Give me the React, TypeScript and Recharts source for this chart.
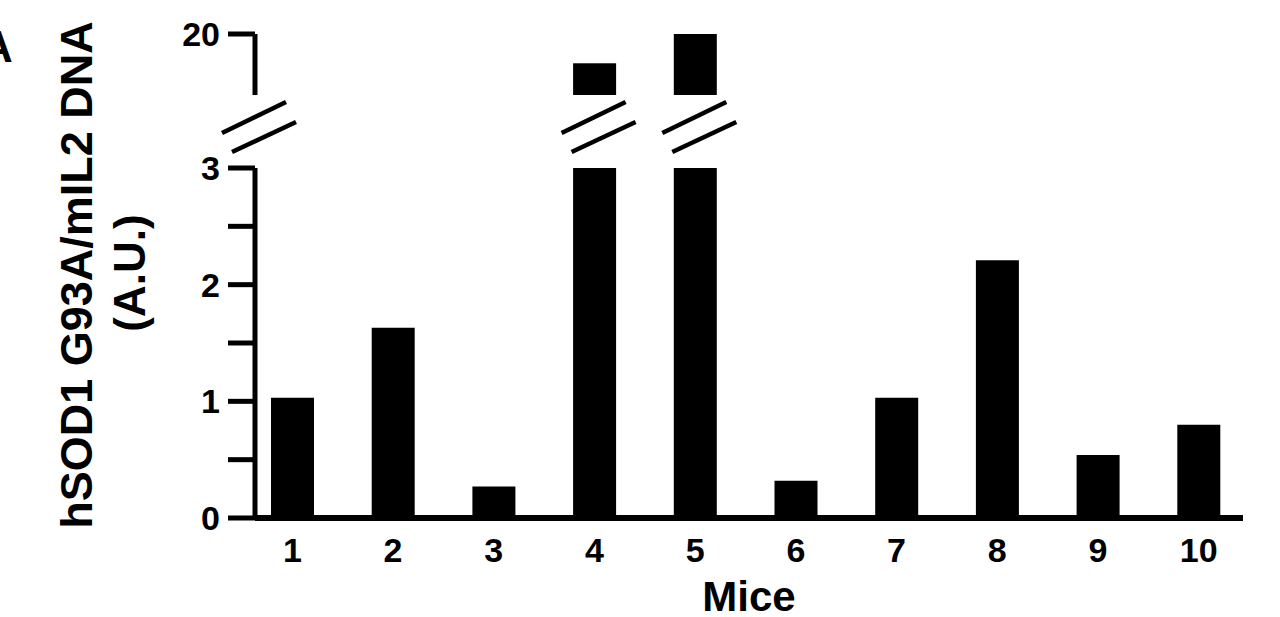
import React from 'react';
import { BarChart, Bar, XAxis, YAxis, Label } from 'recharts';

const mice = ['1', '2', '3', '4', '5', '6', '7', '8', '9', '10'];
const values = [1.03, 1.63, 0.27, 17.6, 20, 0.32, 1.03, 2.21, 0.54, 0.8];
const lowerTicks = [0, 0.5, 1, 1.5, 2, 2.5, 3];
const lowerDomain = [0, 3];
const upperTicks = [15, 20];
const upperDomain = [15, 20];
const yLabelLine1 = 'hSOD1 G93A/mIL2 DNA';
const yLabelLine2 = '(A.U.)';
const xLabel = 'Mice';
const panelLetter = 'A';

const lowerData = mice.map((m, i) => ({ mouse: m, value: values[i] }));
const upperData = mice.map((m, i) => ({
  mouse: m,
  value: values[i] > lowerDomain[1] ? values[i] : null,
}));

const FONT = '"Liberation Sans", Arial, Helvetica, sans-serif';
const TICK_SIZE = 27;
const TICK_MARGIN = 8;
const W = 1280;
const H = 617;
const Y_AXIS_W = 255;
const RIGHT = 37;
const X_PAD = { left: -13, right: -6 };

const BreakMarks = ({ cx, by }: { cx: number; by: number }) => (
  <g stroke="#000" strokeWidth={4.5}>
    <line x1={cx - 33} y1={by + 38} x2={cx + 31} y2={by + 7} />
    <line x1={cx - 23} y1={by + 57} x2={cx + 41} y2={by + 27} />
  </g>
);

const UpperBarShape = (props: any) => {
  const { x, y, width, height } = props;
  if (x == null || height == null || !(height > 0)) return <g />;
  return (
    <g>
      <rect x={x} y={y} width={width} height={height} fill="#000" />
      <BreakMarks cx={x + width / 2} by={y + height} />
    </g>
  );
};

const UpperTick = (props: any) => {
  const { x, y, payload } = props;
  const axisX = x + TICK_SIZE + TICK_MARGIN;
  if (payload.value === upperDomain[0]) {
    return <BreakMarks cx={axisX} by={y} />;
  }
  return (
    <g>
      <line x1={axisX - TICK_SIZE} y1={y} x2={axisX} y2={y} stroke="#000" strokeWidth={5} />
      <text
        x={x}
        y={y}
        dy="0.355em"
        textAnchor="end"
        fontFamily={FONT}
        fontWeight="bold"
        fontSize={34}
        fill="#000"
      >
        {payload.value}
      </text>
    </g>
  );
};

const YLabel = () => (
  <g fontFamily={FONT} fontWeight="bold" fill="#000">
    <text x={-19} y={62} fontSize={44}>{panelLetter}</text>
    <text transform="translate(92,275) rotate(-90)" textAnchor="middle" fontSize={45}>
      {yLabelLine1}
    </text>
    <text transform="translate(145,273) rotate(-90)" textAnchor="middle" fontSize={44}>
      {yLabelLine2}
    </text>
  </g>
);

export default function App() {
  const tickStyle = { fontFamily: FONT, fontWeight: 'bold', fontSize: 34, fill: '#000' };
  return (
    <div style={{ position: 'absolute', left: 0, top: 0, width: W, height: H, background: '#fff' }}>
      <div style={{ position: 'absolute', left: 0, top: 0 }}>
        <BarChart
          width={W}
          height={H}
          data={lowerData}
          margin={{ top: 168, right: RIGHT, bottom: 0, left: 0 }}
        >
          <XAxis
            dataKey="mouse"
            height={99}
            padding={X_PAD}
            axisLine={{ stroke: '#000', strokeWidth: 6 }}
            tickLine={false}
            tickSize={10}
            tickMargin={10}
            tick={tickStyle}
          >
            <Label
              value={xLabel}
              position="insideBottom"
              offset={6}
              style={{ fontFamily: FONT, fontWeight: 'bold', fontSize: 42, fill: '#000' }}
            />
          </XAxis>
          <YAxis
            width={Y_AXIS_W}
            domain={lowerDomain}
            allowDataOverflow
            ticks={lowerTicks}
            interval={0}
            tickSize={TICK_SIZE}
            tickMargin={TICK_MARGIN}
            tick={tickStyle}
            tickFormatter={(v: number) => (Number.isInteger(v) ? String(v) : '')}
            axisLine={{ stroke: '#000', strokeWidth: 5 }}
            tickLine={{ stroke: '#000', strokeWidth: 5 }}
          >
            <Label content={<YLabel />} />
          </YAxis>
          <Bar dataKey="value" fill="#000" barSize={43} isAnimationActive={false} />
        </BarChart>
      </div>
      <div style={{ position: 'absolute', left: 0, top: 0 }}>
        <BarChart
          width={W}
          height={160}
          data={upperData}
          margin={{ top: 34, right: RIGHT, bottom: 65, left: 0 }}
        >
          <XAxis dataKey="mouse" hide padding={X_PAD} />
          <YAxis
            width={Y_AXIS_W}
            domain={upperDomain}
            ticks={upperTicks}
            interval={0}
            tickSize={TICK_SIZE}
            tickMargin={TICK_MARGIN}
            tickLine={false}
            tick={<UpperTick />}
            axisLine={{ stroke: '#000', strokeWidth: 5 }}
          />
          <Bar
            dataKey="value"
            fill="#000"
            barSize={43}
            isAnimationActive={false}
            shape={<UpperBarShape />}
          />
        </BarChart>
      </div>
    </div>
  );
}
